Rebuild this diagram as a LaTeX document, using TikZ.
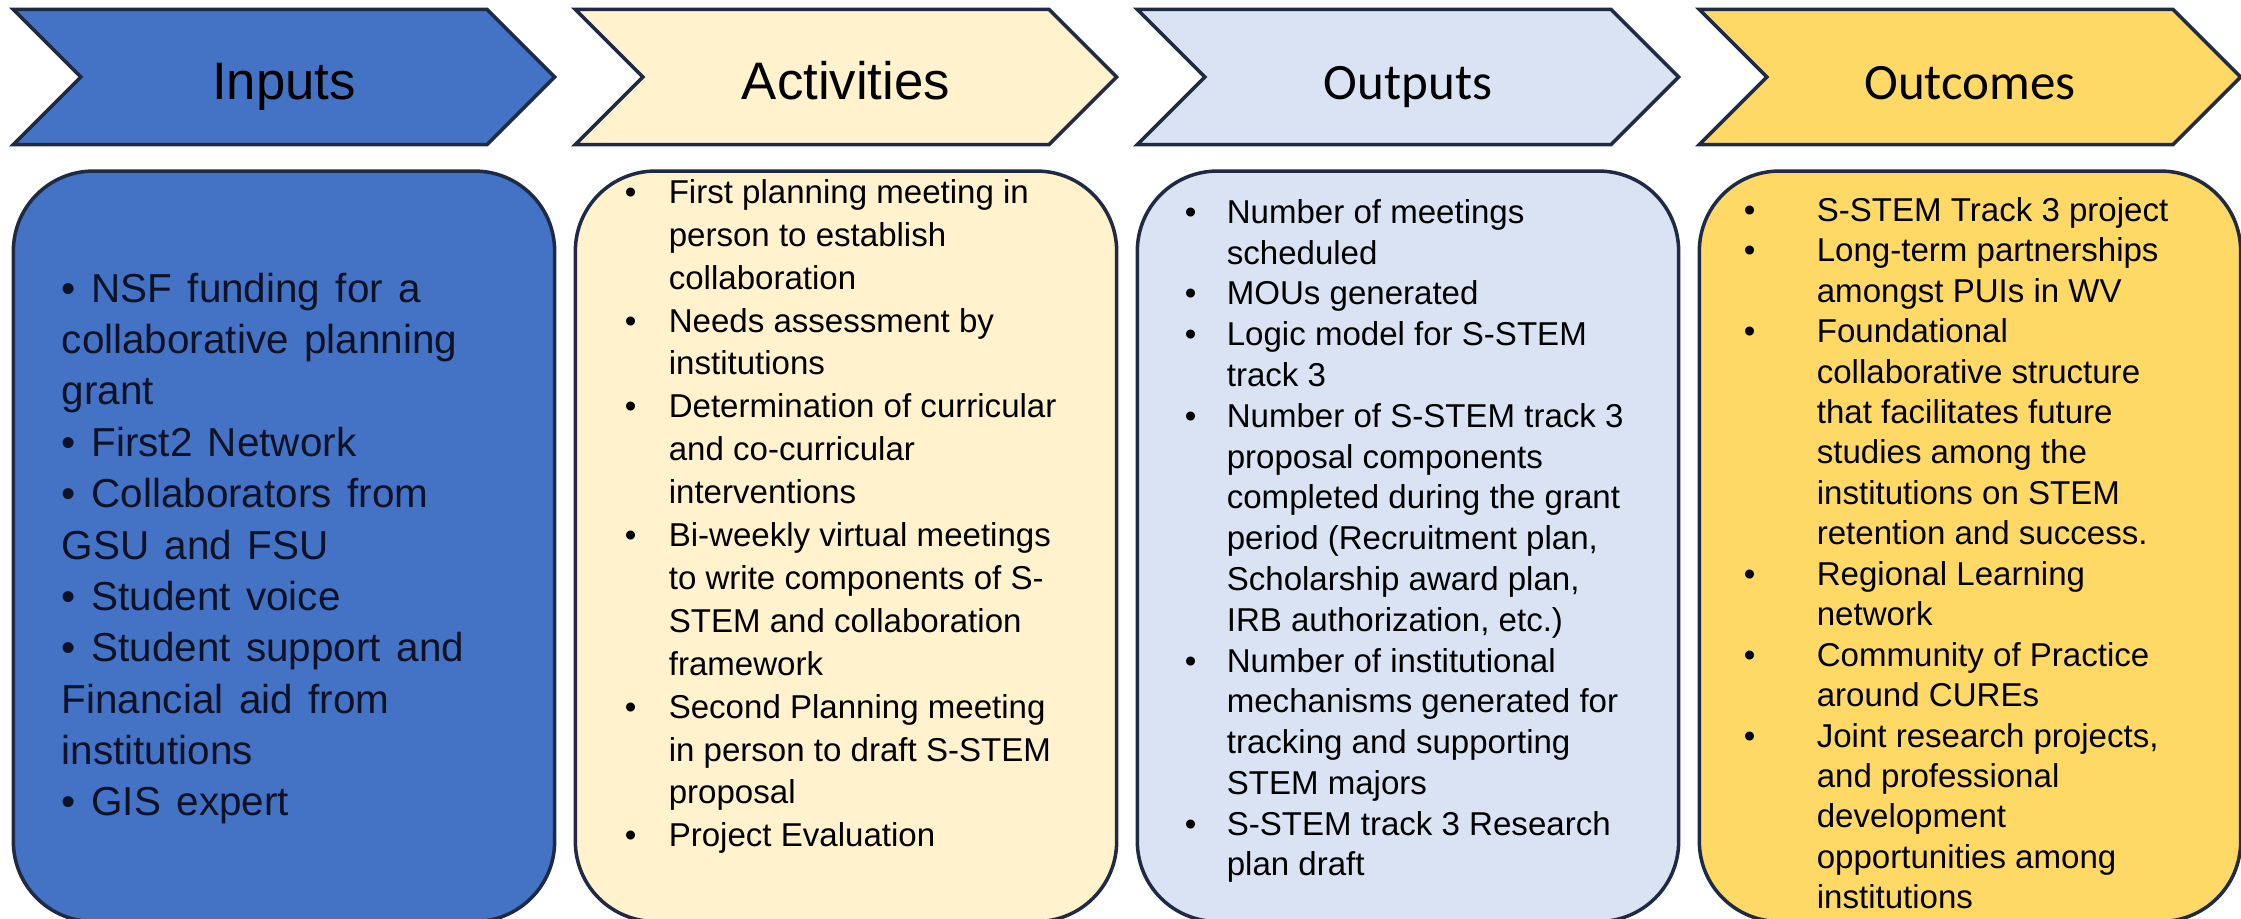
\documentclass[tikz,border=0pt]{standalone}
\usepackage{fontspec}
\setmainfont{Liberation Sans}
\newfontfamily\calibri{Carlito}
\usetikzlibrary{positioning,shapes.symbols}
\definecolor{inblue}{HTML}{4472C4}
\definecolor{actcream}{HTML}{FFF2CC}
\definecolor{outblue}{HTML}{DAE3F3}
\definecolor{outgold}{HTML}{FFD966}
\definecolor{edgeline}{HTML}{1F2A44}
\definecolor{inktext}{HTML}{0E1226}
\newcommand{\bul}{\textbullet}

\begin{document}
\begin{tikzpicture}[
  x = 0.01cm,
  y = -0.01cm,
  chev/.style = {
    draw = edgeline,
    line width = 1pt,
    signal,
    signal from = west,
    signal to = east,
    signal pointer angle = 90,
    minimum width = 5.41cm,
    minimum height = 1.35cm,
    inner sep = 0pt,
    text height = 13pt,
    text depth = 0pt,
  },
  card/.style = {
    draw = edgeline,
    line width = 1pt,
    rectangle,
    rounded corners = 0.8cm,
    minimum width = 5.41cm,
    minimum height = 7.5cm,
  },
  list/.style = {
    anchor = base west,
    inner sep = 0pt,
  },
]

  \useasboundingbox (0,0) rectangle (2241,919);

  % headings
  \node[chev, fill=inblue,   font=\fontsize{15}{18}\selectfont] (cin)  at (284,77)  {Inputs};
  \node[chev, fill=actcream, font=\fontsize{15}{18}\selectfont] (cact) at (846,77)  {Activities};
  \node[chev, fill=outblue,  font=\calibri\fontsize{14.5}{17}\selectfont] (cout) at (1408,77) {Outputs};
  \node[chev, fill=outgold,  font=\calibri\fontsize{14.5}{17}\selectfont] (ccom) at (1970,77) {Outcomes};

  % boxes
  \node[card, fill=inblue]   (bin)  [below=0.23cm of cin]  {};
  \node[card, fill=actcream] (bact) [below=0.23cm of cact] {};
  \node[card, fill=outblue]  (bout) [below=0.23cm of cout] {};
  \node[card, fill=outgold]  (bcom) [below=0.23cm of ccom] {};

  % lists
  \node[list, text=inktext, font=\fontsize{11.5}{14.6}\selectfont] (tin) at ([shift={(49.5,133)}]bin.north west) {%
    \spaceskip=4.4pt plus 1pt\relax
    \begin{tabular}[t]{@{}l@{}}
      \bul\ NSF funding for a \\
      collaborative planning \\
      grant \\
      \bul\ First2 Network \\
      \bul\ Collaborators from \\
      GSU and FSU \\
      \bul\ Student voice \\
      \bul\ Student support and \\
      Financial aid from \\
      institutions \\
      \bul\ GIS expert
    \end{tabular}};

  \node[list, font=\fontsize{9.4}{12.2}\selectfont] (tact) at ([shift={(50.5,34)}]bact.north west) {%
    \begin{tabular}[t]{@{}p{0.44cm}@{}l@{}}
      \bul & First planning meeting in \\
           & person to establish \\
           & collaboration \\
      \bul & Needs assessment by \\
           & institutions \\
      \bul & Determination of curricular \\
           & and co-curricular \\
           & interventions \\
      \bul & Bi-weekly virtual meetings \\
           & to write components of S- \\
           & STEM and collaboration \\
           & framework \\
      \bul & Second Planning meeting \\
           & in person to draft S-STEM \\
           & proposal \\
      \bul & Project Evaluation
    \end{tabular}};

  \node[list, font=\fontsize{9.4}{11.6}\selectfont] (tout) at ([shift={(48.5,54)}]bout.north west) {%
    \begin{tabular}[t]{@{}p{0.42cm}@{}l@{}}
      \bul & Number of meetings \\
           & scheduled \\
      \bul & MOUs generated \\
      \bul & Logic model for S-STEM \\
           & track 3 \\
      \bul & Number of S-STEM track 3 \\
           & proposal components \\
           & completed during the grant \\
           & period (Recruitment plan, \\
           & Scholarship award plan, \\
           & IRB authorization, etc.) \\
      \bul & Number of institutional \\
           & mechanisms generated for \\
           & tracking and supporting \\
           & STEM majors \\
      \bul & S-STEM track 3 Research \\
           & plan draft
    \end{tabular}};

  \node[list, font=\fontsize{9.4}{11.5}\selectfont] (tcom) at ([shift={(45.5,52)}]bcom.north west) {%
    \begin{tabular}[t]{@{}p{0.73cm}@{}l@{}}
      \bul & S-STEM Track 3 project \\
      \bul & Long-term partnerships \\
           & amongst PUIs in WV \\
      \bul & Foundational \\
           & collaborative structure \\
           & that facilitates future \\
           & studies among the \\
           & institutions on STEM \\
           & retention and success. \\
      \bul & Regional Learning \\
           & network \\
      \bul & Community of Practice \\
           & around CUREs \\
      \bul & Joint research projects, \\
           & and professional \\
           & development \\
           & opportunities among \\
           & institutions
    \end{tabular}};

\end{tikzpicture}
\end{document}
